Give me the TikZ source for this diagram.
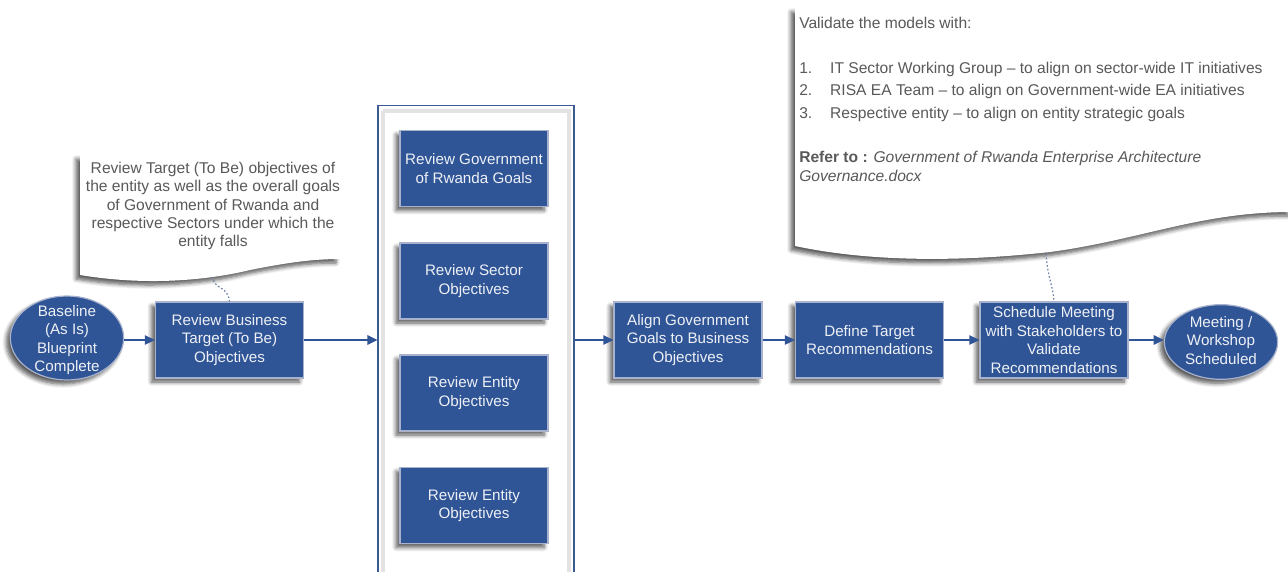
\documentclass[tikz,border=0pt]{standalone}
\usepackage{fontspec}
\setmainfont{Liberation Sans}
\usetikzlibrary{arrows.meta,shadows.blur,shapes.geometric}
\definecolor{boxblue}{HTML}{2F5597}
\definecolor{boxedge}{HTML}{A8B2CC}
\definecolor{boxtext}{HTML}{EEF0F5}
\definecolor{notegray}{HTML}{595959}
\definecolor{frameblue}{HTML}{3A5C92}
\definecolor{dotblue}{HTML}{6A7FA6}
\begin{document}
\begin{tikzpicture}[x=0.75pt,y=-0.75pt,
  txt/.style={font=\fontsize{11.4}{13.8}\selectfont},
  bshadow/.style={blur shadow={shadow xshift=-3pt,shadow yshift=-3pt,shadow blur steps=6,shadow blur radius=3pt,shadow opacity=65}},
  procbox/.style={rectangle,fill=boxblue,draw=boxedge,line width=0.9pt,
    minimum width=111pt,minimum height=57pt,inner sep=1pt,
    text=boxtext,align=center,txt,bshadow},
  termnode/.style={ellipse,fill=boxblue,draw=boxedge,line width=0.9pt,inner sep=0pt,bshadow},
  termtext/.style={text=boxtext,align=center,txt},
  flow/.style={draw=boxblue,line width=1.2pt,-{Triangle[length=7.5pt,width=7pt]}},
  link/.style={draw=dotblue,line width=0.9pt,dash pattern=on 1.2pt off 1.6pt},
  notetext/.style={text=notegray,font=\fontsize{11.7}{13.7}\selectfont},
]
\useasboundingbox (0,0) rectangle (1288,571);

% ---------- note 1 ----------
\path[fill=white,bshadow] (80,155) -- (340,155) -- (340,259)
  .. controls (315,259) and (290,262) .. (250,270)
  .. controls (200,282) and (140,285) .. (80,275) -- cycle;
\node[notetext,align=center] (note1) at (213,206)
  {Review Target (To Be) objectives of\\the entity as well as the overall goals\\of Government of Rwanda and\\respective Sectors under which the\\entity falls};
\coordinate (n1tip) at (212,277);

% ---------- note 2 ----------
\path[fill=white,bshadow] (795,8) -- (1292,8) -- (1292,212)
  .. controls (1200,212) and (1140,240) .. (1050,252)
  .. controls (960,262) and (870,262) .. (795,246) -- cycle;
\node[notetext,anchor=base west,inner sep=0pt] (v0) at (799,28) {Validate the models with:};
\node[notetext,anchor=base west,inner sep=0pt] (v1) at (799,73) {\makebox[23.2pt][l]{1.}IT Sector Working Group – to align on sector-wide IT initiatives};
\node[notetext,anchor=base west,inner sep=0pt] (v2) at (799,95.5) {\makebox[23.2pt][l]{2.}RISA EA Team – to align on Government-wide EA initiatives};
\node[notetext,anchor=base west,inner sep=0pt] (v3) at (799,118) {\makebox[23.2pt][l]{3.}Respective entity – to align on entity strategic goals};
\node[notetext,anchor=base west,inner sep=0pt] (v4) at (799,162) {\textbf{Refer to :} \textit{Government of Rwanda Enterprise Architecture}};
\node[notetext,anchor=base west,inner sep=0pt] (v5) at (799,181) {\textit{Governance.docx}};
\coordinate (n2tip) at (1046,254);

% ---------- group container ----------
\node[draw=frameblue,line width=0.8pt,minimum width=147pt,minimum height=371pt,inner sep=0pt] (grp) at (476,352.5) {};
\draw[gray!22,line width=2.5pt] (383,111) -- (383,600) (383,111) -- (569,111) -- (569,600);

% ---------- nodes ----------
\node[termnode,minimum width=85pt,minimum height=63pt] (base) at (67,338)
  {};
\node[termtext] (baset) at (67,340) {Baseline\\(As Is)\\Blueprint\\Complete};
\node[procbox] (rbt) at (229.5,340) {Review Business\\Target (To Be)\\Objectives};
\node[procbox] (g1) at (474,168.5) {Review Government\\of Rwanda Goals};
\node[procbox] (g2) at (474,281) {Review Sector\\Objectives};
\node[procbox] (g3) at (474,393) {Review Entity\\Objectives};
\node[procbox] (g4) at (474,505.5) {Review Entity\\Objectives};
\node[procbox] (align) at (688,340) {Align Government\\Goals to Business\\Objectives};
\node[procbox] (def) at (869.5,340) {Define Target\\Recommendations};
\node[procbox] (sched) at (1054,340) {Schedule Meeting\\with Stakeholders to\\Validate\\Recommendations};
\node[termnode,minimum width=85pt,minimum height=56pt] (meet) at (1221,342) {};
\node[termtext] (meett) at (1221,340.5) {Meeting /\\Workshop\\Scheduled};

% ---------- connectors ----------
\draw[flow] (base.east |- rbt.west) -- (rbt.west);
\draw[flow] (rbt.east) -- (rbt.east -| grp.west);
\draw[flow] (align.west -| grp.east) -- (align.west);
\draw[flow] (align.east) -- (def.west);
\draw[flow] (def.east) -- (sched.west);
\draw[flow] (sched.east) -- (meet.west |- sched.east);
\draw[link] (n1tip) .. controls (215,290) and (228,286) .. (rbt.north);
\draw[link] (n2tip) .. controls (1048,280) and (1053,285) .. (sched.north);
\end{tikzpicture}
\end{document}
